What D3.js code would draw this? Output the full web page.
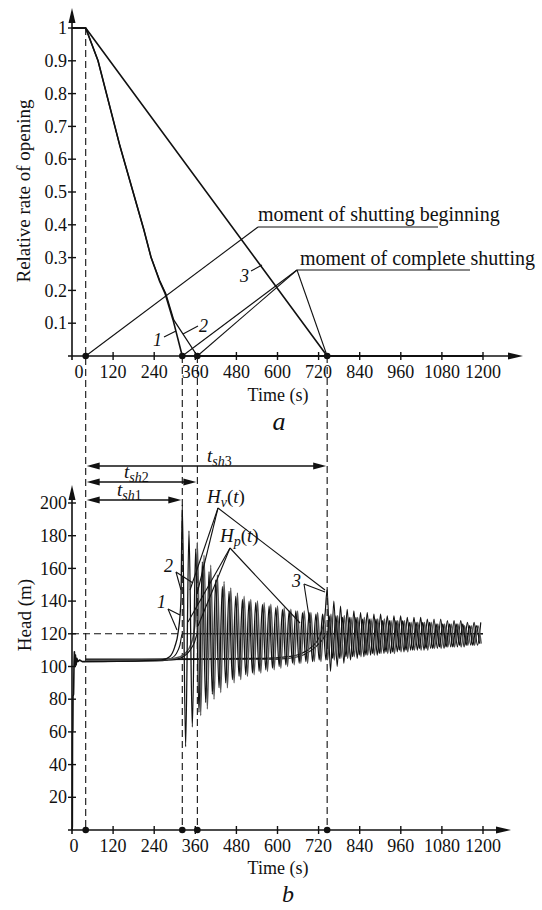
<!DOCTYPE html>
<html>
<head>
<meta charset="utf-8">
<script src="https://cdn.jsdelivr.net/npm/d3@7/dist/d3.min.js"></script>
<style>
  body { margin: 0; background: #fff; }
  svg text { font-family: "Liberation Serif", "Times New Roman", "DejaVu Serif", serif; fill: #111; }
</style>
</head>
<body>
<script>

// ---- data ----

var timeTicks = [120, 240, 360, 480, 600, 720, 840, 960, 1080, 1200];
var openTicks = [0.1, 0.2, 0.3, 0.4, 0.5, 0.6, 0.7, 0.8, 0.9, 1];
var headTicks = [20, 40, 60, 80, 100, 120, 140, 160, 180, 200];

var tStart = 40;                 // moment of shutting beginning
var tShut = [322, 366, 745];     // moments of complete shutting (1, 2, 3)

// relative rate of opening, [t, value]
var opening1 = [[0, 1], [40, 1], [76, 0.9], [140, 0.64], [210, 0.384], [231, 0.3], [255, 0.23], [272, 0.19],
                [295, 0.11], [322, 0], [1200, 0]];
var opening2 = [[0, 1], [40, 1], [76, 0.9], [140, 0.64], [210, 0.384], [231, 0.3], [256, 0.23], [274, 0.19],
                [297, 0.11], [366, 0], [1200, 0]];
var opening3 = [[0, 1], [40, 1], [745, 0], [1200, 0]];

// start-up transient of the head, [t, H]
var startup = [[0, 0], [1, 2], [1.5, 60], [2.5, 61], [3, 82], [4.5, 83], [5, 88], [6, 103], [7, 109],
               [8.5, 100], [10, 107], [12, 101], [14, 105], [17, 103], [22, 104], [30, 103], [40, 103]];

// head before complete shutting, [t, H]
var hv1Before = [[40, 103], [200, 103.5], [262, 104], [285, 106], [300, 112], [310, 121], [318, 140]];
var hv2Before = [[40, 103.5], [250, 104], [300, 105], [330, 108], [348, 114], [358, 124], [363, 140]];
var hv3Before = [[40, 104.5], [560, 105], [630, 106], [670, 108], [700, 112], [722, 118], [738, 130]];

var hp1 = [[40, 103], [265, 103.5], [290, 105], [305, 108], [315, 113], [322, 120], [1200, 120]];
var hp2 = [[40, 103.5], [290, 104], [325, 106], [345, 110], [358, 115], [366, 120], [1200, 120]];
var hp3 = [[40, 104], [600, 104.5], [660, 106], [700, 110], [730, 116], [745, 120], [1200, 120]];

// oscillation after shutting: head of each successive crest and trough
var oscPeriod = 19.5;
var peaks1 = [199, 183, 172, 164, 158, 153, 149, 146, 143, 141, 140, 139, 138, 137, 136, 135, 134, 134, 133, 133,
              132, 132, 131, 131, 130, 130, 130, 129, 129, 129, 128, 128, 128, 128, 127, 127, 127, 127, 126, 126,
              126, 126, 126, 125, 125];
var troughs1 = [51, 63, 72, 78, 83, 87, 90, 92, 94, 95, 96, 97, 98, 99, 100, 101, 102, 102, 103, 103,
                104, 104, 105, 105, 106, 106, 107, 107, 108, 108, 109, 109, 110, 110, 110, 111, 111, 111, 112, 112,
                112, 113, 113, 113, 114];
var peaks2 = [176, 168, 162, 156, 152, 148, 145, 143, 141, 140, 139, 138, 137, 136, 135, 134, 134, 133, 133, 132,
              132, 131, 131, 130, 130, 130, 129, 129, 129, 128, 128, 128, 127, 127, 127, 127, 126, 126, 126, 126,
              125, 125, 125];
var troughs2 = [70, 74, 80, 84, 87, 90, 92, 94, 95, 96, 97, 98, 99, 100, 101, 102, 102, 103, 103, 104,
                104, 105, 105, 106, 106, 107, 107, 108, 108, 108, 109, 109, 110, 110, 110, 111, 111, 112, 112, 112,
                113, 113, 114];
var peaks3 = [147, 140, 137, 135, 134, 133, 133, 132, 132, 131, 131, 131, 130, 130, 130, 129, 129, 129, 128, 128,
              128, 127, 127, 127];
var troughs3 = [97, 100, 102, 104, 105, 106, 107, 107, 108, 108, 109, 109, 110, 110, 110, 111, 111, 111, 112, 112,
                112, 113, 113, 114];

// ---- layout ----

var svg = d3.select("body").append("svg").attr("width", 542).attr("height", 910)
    .attr("font-family", "Liberation Serif, Times New Roman, serif");

var x = d3.scaleLinear().domain([0, 1200]).range([72, 483]);
var yOpen = d3.scaleLinear().domain([0, 1]).range([356, 28]);
var yHead = d3.scaleLinear().domain([0, 200]).range([830, 503]);

var fontSize = 18;

function arrowHead(g, tipX, tipY, dir, len, half) {
    // dir: "up", "right", "left"
    var pts;
    if (dir == "up") pts = [[tipX, tipY], [tipX - half, tipY + len], [tipX + half, tipY + len]];
    else if (dir == "right") pts = [[tipX, tipY], [tipX - len, tipY - half], [tipX - len, tipY + half]];
    else pts = [[tipX, tipY], [tipX + len, tipY - half], [tipX + len, tipY + half]];
    g.append("path").attr("d", "M" + pts.join("L") + "Z").attr("fill", "#111");
}

function drawAxes(y, ticks, fmt, topTip, rightTip, zeroX) {
    var g = svg.append("g");
    var y0 = y.range()[0];
    // y axis
    g.append("line").attr("x1", 72).attr("y1", y0 + 4).attr("x2", 72).attr("y2", topTip + 10)
        .attr("stroke", "#111").attr("stroke-width", 1.6);
    arrowHead(g, 72, topTip, "up", 15, 3.5);
    // x axis
    g.append("line").attr("x1", 68).attr("y1", y0).attr("x2", rightTip - 10).attr("y2", y0)
        .attr("stroke", "#111").attr("stroke-width", 1.6);
    arrowHead(g, rightTip, y0, "right", 15, 3.5);

    ticks.forEach(function (v) {
        g.append("line").attr("x1", 68).attr("x2", 76).attr("y1", y(v)).attr("y2", y(v))
            .attr("stroke", "#111").attr("stroke-width", 1.4);
        g.append("text").attr("x", 67).attr("y", y(v)).attr("dy", "0.34em")
            .attr("text-anchor", "end").attr("font-size", fontSize).text(fmt(v));
    });
    timeTicks.forEach(function (v) {
        g.append("line").attr("x1", x(v)).attr("x2", x(v)).attr("y1", y0 - 4).attr("y2", y0 + 4)
            .attr("stroke", "#111").attr("stroke-width", 1.4);
        g.append("text").attr("x", x(v)).attr("y", y0 + 22)
            .attr("text-anchor", "middle").attr("font-size", fontSize).text(v);
    });
    g.append("text").attr("x", zeroX).attr("y", y0 + 22)
        .attr("text-anchor", "middle").attr("font-size", fontSize).text("0");
}

function drawCurve(data, y, width, color, curve) {
    var line = d3.line().x(function (d) { return x(d[0]); }).y(function (d) { return y(d[1]); })
        .curve(curve || d3.curveLinear);
    svg.append("path").datum(data).attr("d", line).attr("fill", "none")
        .attr("stroke", color).attr("stroke-width", width).attr("stroke-linejoin", "round");
}

function oscillation(before, t0, peaks, troughs) {
    var pts = before.slice();
    var n = Math.min(peaks.length, troughs.length);
    for (var i = 0; i < n; i++) {
        var tp = t0 + i * oscPeriod;
        if (tp > 1200) break;
        pts.push([tp, peaks[i]]);
        if (tp + oscPeriod / 2 > 1200) break;
        pts.push([tp + oscPeriod / 2, troughs[i]]);
    }
    return pts;
}

function seg(x1, y1, x2, y2, w) {
    svg.append("line").attr("x1", x1).attr("y1", y1).attr("x2", x2).attr("y2", y2)
        .attr("stroke", "#111").attr("stroke-width", w || 1.1);
}

function dashed(x1, y1, x2, y2) {
    svg.append("line").attr("x1", x1).attr("y1", y1).attr("x2", x2).attr("y2", y2)
        .attr("stroke", "#111").attr("stroke-width", 1.1).attr("stroke-dasharray", "7,4");
}

function dot(cx, cy) {
    svg.append("circle").attr("cx", cx).attr("cy", cy).attr("r", 3.3).attr("fill", "#111");
}

function label(tx, ty, str, size, italic, anchor) {
    return svg.append("text").attr("x", tx).attr("y", ty).attr("font-size", size || fontSize)
        .attr("font-style", italic ? "italic" : "normal")
        .attr("text-anchor", anchor || "start").text(str);
}

// ---- chart a ----

drawAxes(yOpen, openTicks, function (v) { return v == 1 ? "1" : d3.format(".1f")(v); }, 8, 523, 79);

svg.append("text").attr("transform", "translate(30,191) rotate(-90)").attr("text-anchor", "middle")
    .attr("font-size", 19).text("Relative rate of opening");
label(278, 401, "Time (s)", fontSize, false, "middle");
label(279, 430, "a", 26, true, "middle");

drawCurve(opening3, yOpen, 1.6, "#111");
drawCurve(opening1, yOpen, 1.6, "#111");
drawCurve(opening2, yOpen, 1.3, "#111");

// dashed guides running through both charts
dashed(x(tStart), yOpen(1), x(tStart), yHead(0));
tShut.forEach(function (t) { dashed(x(t), yOpen(0), x(t), yHead(0)); });

dot(x(tStart), yOpen(0));
tShut.forEach(function (t) { dot(x(t), yOpen(0)); });

// annotations of chart a
seg(x(tStart), yOpen(0), 258, 227);
seg(258, 227, 438, 227);
label(258, 221, "moment of shutting beginning", 20);

seg(297, 270, x(tShut[0]), yOpen(0));
seg(297, 270, x(tShut[1]), yOpen(0));
seg(297, 270, x(tShut[2]), yOpen(0));
seg(297, 270, 470, 270);
label(300, 265, "moment of complete shutting", 20);

label(240, 282, "3", fontSize, true);
seg(251, 271, 262, 265);
label(153, 346, "1", fontSize, true);
seg(164, 337, 176, 331);
label(199, 332, "2", fontSize, true);
seg(183, 334, 198, 326);

// ---- chart b ----

drawAxes(yHead, headTicks, function (v) { return v; }, 485, 511, 74);

svg.append("text").attr("transform", "translate(31,615) rotate(-90)").attr("text-anchor", "middle")
    .attr("font-size", 19).text("Head (m)");
label(278, 874, "Time (s)", fontSize, false, "middle");
label(288, 902, "b", 24, true, "middle");

dashed(72, yHead(120), 180, yHead(120));

drawCurve(startup, yHead, 1.6, "#111");
drawCurve(hp1, yHead, 1.1, "#111", d3.curveMonotoneX);
drawCurve(hp2, yHead, 1.1, "#111", d3.curveMonotoneX);
drawCurve(hp3, yHead, 1.1, "#111", d3.curveMonotoneX);
drawCurve(oscillation(hv3Before, tShut[2], peaks3, troughs3), yHead, 1.2, "#111", d3.curveMonotoneX);
drawCurve(oscillation(hv2Before, tShut[1], peaks2, troughs2), yHead, 1.5, "#555", d3.curveMonotoneX);
drawCurve(oscillation(hv1Before, tShut[0], peaks1, troughs1), yHead, 1.3, "#111", d3.curveMonotoneX);

dot(x(tStart), yHead(0));
tShut.forEach(function (t) { dot(x(t), yHead(0)); });

// shutting durations
var arrowYs = [500, 482, 466];
var arrowNames = ["1", "2", "3"];
var arrowLabelX = [117, 124, 207];
tShut.forEach(function (t, i) {
    var ay = arrowYs[i];
    seg(x(tStart) + 8, ay, x(t) - 8, ay, 1.3);
    arrowHead(svg, x(tStart) + 1, ay, "left", 13, 3.5);
    arrowHead(svg, x(t) - 1, ay, "right", 13, 3.5);
    var tl = svg.append("text").attr("x", arrowLabelX[i]).attr("y", ay - 4).attr("font-size", 19);
    tl.append("tspan").attr("font-style", "italic").text("t");
    tl.append("tspan").attr("font-style", "italic").attr("font-size", 14).attr("dy", 4).text("sh");
    tl.append("tspan").attr("font-size", 14).text(arrowNames[i]);
});

// H_v(t) and H_p(t) labels
var hv = svg.append("text").attr("x", 207).attr("y", 503).attr("font-size", 19);
hv.append("tspan").attr("font-style", "italic").text("H");
hv.append("tspan").attr("font-style", "italic").attr("font-size", 14).attr("dy", 4).text("v");
hv.append("tspan").attr("dy", -4).text("(");
hv.append("tspan").attr("font-style", "italic").text("t");
hv.append("tspan").text(")");
seg(218, 508, 190, 590);
seg(218, 508, 197, 594);
seg(218, 508, 325, 590);

var hp = svg.append("text").attr("x", 220).attr("y", 542).attr("font-size", 19);
hp.append("tspan").attr("font-style", "italic").text("H");
hp.append("tspan").attr("font-style", "italic").attr("font-size", 14).attr("dy", 4).text("p");
hp.append("tspan").attr("dy", -4).text("(");
hp.append("tspan").attr("font-style", "italic").text("t");
hp.append("tspan").text(")");
seg(230, 548, 188, 622);
seg(230, 548, 198, 626);
seg(230, 548, 300, 623);

// scenario numbers
label(164, 572, "2", fontSize, true);
seg(176, 572, 181, 590);
seg(176, 572, 193, 583);
label(157, 608, "1", fontSize, true);
seg(168, 609, 180, 615);
seg(168, 609, 177, 630);
label(292, 587, "3", fontSize, true);
seg(304, 584, 325, 592);
seg(304, 584, 310, 623);

</script>
</body>
</html>
